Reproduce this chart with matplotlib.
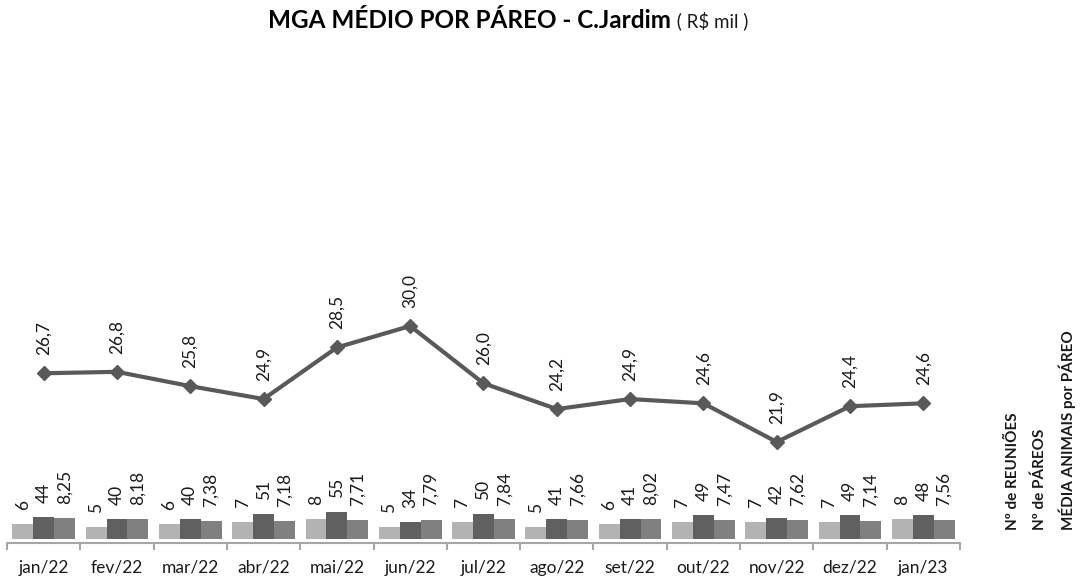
import matplotlib
matplotlib.use("Agg")
import matplotlib.pyplot as plt
import numpy as np

months = ["jan/22", "fev/22", "mar/22", "abr/22", "mai/22", "jun/22", "jul/22",
          "ago/22", "set/22", "out/22", "nov/22", "dez/22", "jan/23"]
mga = [26.7, 26.8, 25.8, 24.9, 28.5, 30.0, 26.0, 24.2, 24.9, 24.6, 21.9, 24.4, 24.6]
reunioes = [6, 5, 6, 7, 8, 5, 7, 5, 6, 7, 7, 7, 8]
pareos = [44, 40, 40, 51, 55, 34, 50, 41, 41, 49, 42, 49, 48]
media_animais = [8.25, 8.18, 7.38, 7.18, 7.71, 7.79, 7.84, 7.66, 8.02, 7.47, 7.62, 7.14, 7.56]

FONT = ["Lato", "DejaVu Sans"]
plt.rcParams['font.family'] = FONT

W, H = 1089, 578
fig = plt.figure(figsize=(W / 100, H / 100), dpi=100)

def fx(px):
    return px / W

def fy(py):
    return 1 - py / H

left, right = 7, 960
bottom, top = 543, 60
rect = [fx(left), fy(bottom), fx(right - left), (bottom - top) / H]
ax_h_px = bottom - top

x = np.arange(len(months))

axb = fig.add_axes(rect)
axp = fig.add_axes(rect, sharex=axb)
axl = fig.add_axes(rect, sharex=axb)
for a in (axp, axl):
    a.patch.set_visible(False)

gap = 4
s_small = 2.5
s_p = 0.5
axb.set_ylim(-gap / s_small, -gap / s_small + ax_h_px / s_small)
axp.set_ylim(-gap / s_p, -gap / s_p + ax_h_px / s_p)

s_l = (442 - 326) / (30.0 - 21.9)
y0 = 21.9 - (bottom - 442) / s_l
axl.set_ylim(y0, y0 + ax_h_px / s_l)

bw = 0.285
c_light, c_dark, c_mid = "#b3b3b3", "#606060", "#808080"
txtc = "#1a1a1a"
b1 = axb.bar(x - bw, reunioes, bw, color=c_light, zorder=2)
b2 = axp.bar(x, pareos, bw, color=c_dark, zorder=2)
b3 = axb.bar(x + bw, media_animais, bw, color=c_mid, zorder=2)

lab_fs = 12.5
for bars, vals, a, fmt in ((b1, reunioes, axb, "{:d}"), (b2, pareos, axp, "{:d}"),
                           (b3, media_animais, axb, "{:.2f}")):
    for r, v in zip(bars, vals):
        a.annotate(fmt.format(v).replace(".", ","),
                   xy=(r.get_x() + r.get_width() / 2, r.get_height()),
                   xytext=(0, 10), textcoords="offset points",
                   rotation=90, ha="center", va="bottom", fontsize=lab_fs, color=txtc)

axl.plot(x, mga, color="#595959", lw=3, marker="D", ms=7, zorder=3)
for xi, v in zip(x, mga):
    axl.annotate("{:.1f}".format(v).replace(".", ","), xy=(xi, v),
                 xytext=(0, 13), textcoords="offset points",
                 rotation=90, ha="center", va="bottom", fontsize=lab_fs, color=txtc)

axb.set_xlim(-0.5, len(months) - 0.5)
for a in (axb, axp, axl):
    for sp in a.spines.values():
        sp.set_visible(False)
    a.set_yticks([])
axb.spines["bottom"].set_visible(True)
axb.spines["bottom"].set_color("#a6a6a6")
axb.spines["bottom"].set_linewidth(1.5)
axb.set_xticks(x)
axb.set_xticklabels(months, fontsize=12.5, color=txtc)
axb.tick_params(axis="x", which="major", length=0, pad=12)
axb.set_xticks(np.arange(-0.5, len(months)), minor=True)
axb.tick_params(axis="x", which="minor", length=5, width=1.5, color="#a6a6a6")
for a in (axp, axl):
    a.tick_params(axis="x", which="both", length=0, labelbottom=False)

t1 = fig.text(fx(268), fy(20), "MGA MÉDIO POR PÁREO - C.Jardim", fontsize=17.5,
              fontweight="bold", ha="left", va="center", color="black")
axl.annotate(" ( R$ mil )", xy=(1, 0.08), xycoords=t1, xytext=(1, 0),
             textcoords="offset points", ha="left", va="bottom",
             fontsize=13.5, color=txtc, annotation_clip=False)

for px, txt in ((1013, "Nº de REUNIÕES"), (1040, "Nº de PÁREOS"),
                (1067, "MÉDIA ANIMAIS por PÁREO")):
    fig.text(fx(px), fy(530), txt, rotation=90, ha="center", va="bottom",
             fontsize=11, fontweight="bold", color=txtc)

fig.savefig("out.png", dpi=100)
